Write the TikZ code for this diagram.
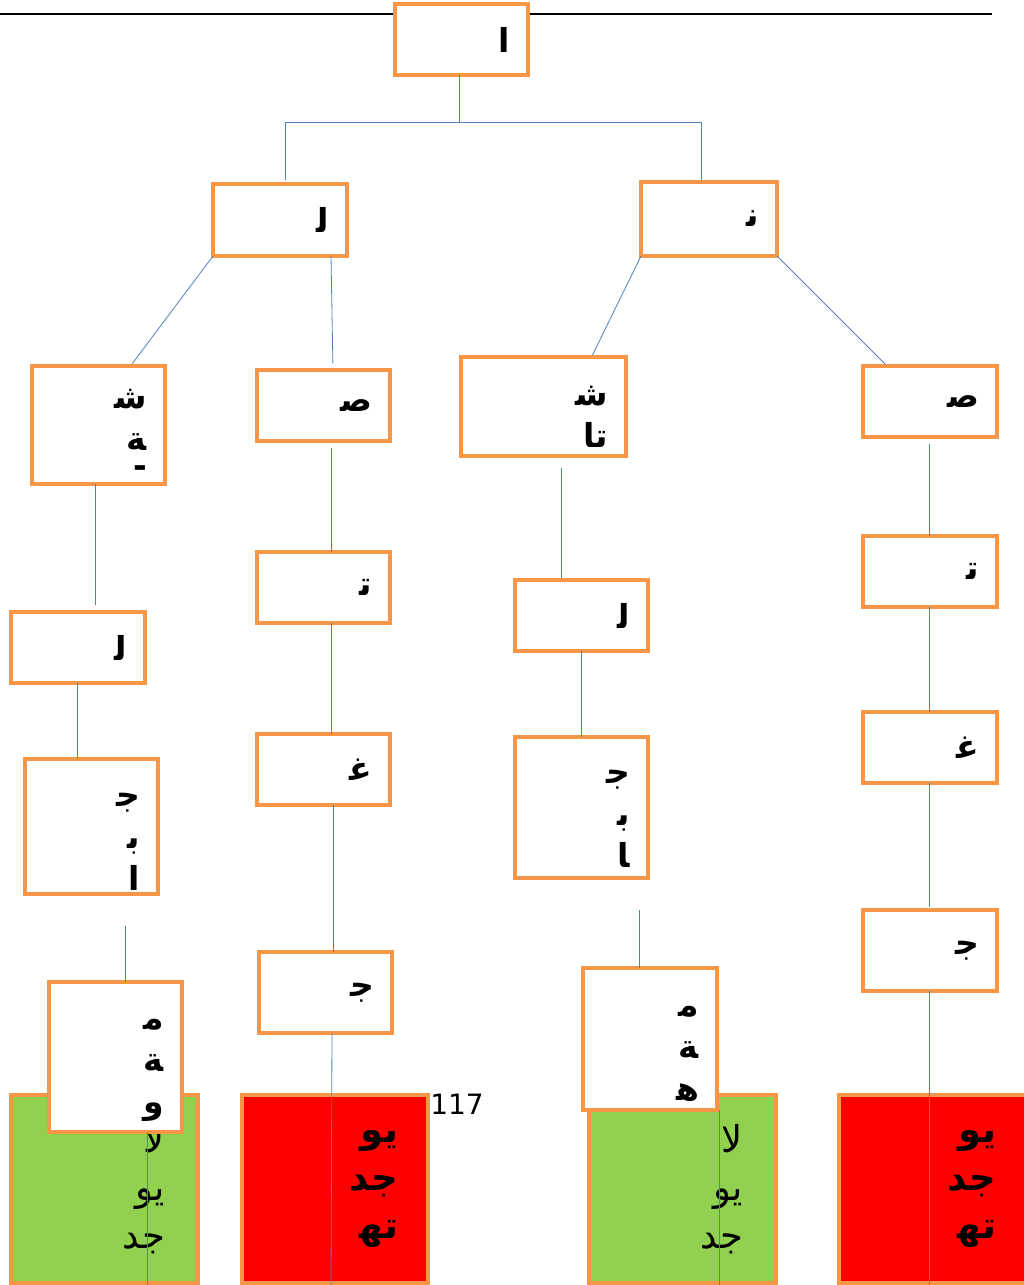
\documentclass[tikz,border=0pt]{standalone}
\usepackage{fontspec}
\setmainfont{DejaVu Sans}
\newfontfamily\arabicfont[Script=Arabic]{DejaVu Sans}
\TeXXeTstate=1
\definecolor{boxorange}{HTML}{F79646}
\definecolor{linkblue}{HTML}{4F81BD}
\definecolor{okgreen}{HTML}{92D050}
\definecolor{nored}{HTML}{FF0000}
\tikzset{
  box/.style={draw=boxorange, line width=4pt, fill=white, anchor=north west,
    outer sep=0pt, inner xsep=18pt, inner ysep=0pt, align=right,
    font=\arabicfont\bfseries\fontsize{33}{42}\selectfont},
  leaf/.style={box, inner xsep=33pt, font=\arabicfont\fontsize{37}{48}\selectfont},
  okleaf/.style={leaf, fill=okgreen},
  noleaf/.style={leaf, inner xsep=30pt, fill=nored, font=\arabicfont\bfseries\fontsize{37}{48}\selectfont},
  link/.style={draw=linkblue, line width=0.8pt}
}
\begin{document}
\begin{tikzpicture}[x=1pt, y=-1pt]
    \useasboundingbox (0,0) rectangle (1024,1285);
    \coordinate (ruleL) at (0,14);
    \coordinate (ruleR) at (992,14);
    \draw[line width=2pt] (ruleL) -- (ruleR);

    \node(okA)[okleaf, text width=121pt, minimum height=188pt] at (11,1095) {\beginR لا\endR\\ \beginR يو\endR\\ \beginR جد\endR};
    \node(noA)[noleaf, text width=126pt, minimum height=188pt] at (242,1095) {\beginR يو\endR\\ \beginR جد\endR\\ \beginR ﺗﻬ\endR};
    \node(okB)[okleaf, text width=121pt, minimum height=188pt] at (589,1095) {\beginR لا\endR\\ \beginR يو\endR\\ \beginR جد\endR};
    \node(noB)[noleaf, text width=127pt, minimum height=188pt] at (839,1095) {\beginR يو\endR\\ \beginR جد\endR\\ \beginR ﺗﻬ\endR};

    \node(alif)[box, text width=97pt, minimum height=71pt] at (395,4) {\beginR ا\endR};
    \node(lam1)[box, text width=98pt, minimum height=72pt] at (213,184) {\beginR ﻟ\endR};
    \node(nun)[box, text width=100pt, minimum height=74pt] at (641,182) {\beginR ﻧ\endR};

    \node(shin1)[box, text width=97pt, minimum height=118pt, text depth=52pt] at (32,366) {\beginR ﺷ\endR\\ \beginR ﺔ\endR\\[-15pt] -};
    \node(sad1)[box, text width=97pt, minimum height=71pt] at (257,370) {\beginR ﺻ\endR};
    \node(shin2)[box, text width=129pt, minimum height=99pt] at (461,357) {\rule{0pt}{40pt}\beginR ﺷ\endR\\ \beginR تا\endR};
    \node(sad2)[box, text width=98pt, minimum height=71pt] at (863,366) {\beginR ﺻ\endR};

    \node(lam2)[box, text width=98pt, minimum height=71pt] at (11,612) {\beginR ﻟ\endR};
    \node(ta1)[box, text width=97pt, minimum height=71pt] at (257,552) {\beginR ﺗ\endR};
    \node(lam3)[box, text width=97pt, minimum height=71pt] at (515,580) {\beginR ﻟ\endR};
    \node(ta2)[box, text width=98pt, minimum height=71pt] at (863,536) {\beginR ﺗ\endR};

    \node(jim1)[box, text width=97pt, minimum height=135pt] at (25,759) {\rule{0pt}{44pt}\beginR ﺟ\endR\\ \beginR ﺑ\endR\\ \beginR ا\endR};
    \node(ghain1)[box, text width=97pt, minimum height=71pt] at (257,734) {\beginR ﻏ\endR};
    \node(jim2)[box, text width=97pt, minimum height=141pt] at (515,737) {\rule{0pt}{36pt}\beginR ﺟ\endR\\ \beginR ﺑ\endR\\ \beginR ﺎ\endR};
    \node(ghain2)[box, text width=98pt, minimum height=71pt] at (863,712) {\beginR ﻏ\endR};

    \node(mim1)[box, text width=97pt, minimum height=150pt] at (49,982) {\rule{0pt}{38pt}\beginR ﻣ\endR\\ \beginR ﺔ\endR\\ \beginR و\endR};
    \node(jim3)[box, text width=97pt, minimum height=81pt] at (259,952) {\beginR ﺟ\endR};
    \node(mim2)[box, text width=98pt, minimum height=142pt] at (583,968) {\rule{0pt}{40pt}\beginR ﻣ\endR\\ \beginR ﺔ\endR\\ \beginR ﻫ\endR};
    \node(jim4)[box, text width=98pt, minimum height=81pt] at (863,910) {\beginR ﺟ\endR};

    \node(page)[font=\fontsize{28}{30}\selectfont] at (457,1104) {117};

    \coordinate (fork) at (459,122);
    \coordinate (end1) at (147,1285);
    \coordinate (end2) at (331,1285);
    \coordinate (end3) at (719,1285);
    \coordinate (end4) at (929,1285);

    \draw[link] (alif.south -| fork) -- (fork);
    \draw[link, shorten >=4pt] (fork) -| ([xshift=5pt]lam1.north);
    \draw[link, shorten >=2pt] (fork) -| ([xshift=-8pt]nun.north);
    \draw[link, shorten >=3pt] (lam1.south west) -- ([xshift=32pt]shin1.north);
    \draw[link, shorten >=7pt] ([xshift=51pt]lam1.south) -- ([xshift=9.5pt]sad1.north);
    \draw[link, shorten >=2pt] (nun.south west) -- ([xshift=48pt]shin2.north);
    \draw[link, shorten >=2pt] (nun.south east) -- ([xshift=-43pt]sad2.north);

    \draw[link, shorten >=7pt] ([xshift=-3.5pt]shin1.south) -- ([xshift=17pt]lam2.north);
    \draw[link] ([xshift=-1pt]lam2.south) -- ([xshift=-14.5pt]jim1.north);
    \draw[link, shorten <=32pt] ([xshift=33.5pt]jim1.south) -- ([xshift=9.5pt]mim1.north);
    \draw[link] ([xshift=31.5pt]mim1.south) -- (end1);

    \draw[link, shorten <=7pt] ([xshift=7.5pt]sad1.south) -- ([xshift=7.5pt]ta1.north);
    \draw[link] ([xshift=7.5pt]ta1.south) -- ([xshift=7.5pt]ghain1.north);
    \draw[link] ([xshift=9.5pt]ghain1.south) -- ([xshift=7.5pt]jim3.north);
    \draw[link] ([xshift=6.5pt]jim3.south) -- (end2);

    \draw[link, shorten <=12pt, shorten >=2pt] ([xshift=17.5pt]shin2.south) -- ([xshift=-20.5pt]lam3.north);
    \draw[link] (lam3.south) -- (jim2.north);
    \draw[link, shorten <=32pt] ([xshift=57.5pt]jim2.south) -- ([xshift=-11pt]mim2.north);
    \draw[link] ([xshift=69pt]mim2.south) -- (end3);

    \draw[link, shorten <=7pt] ([xshift=-1pt]sad2.south) -- ([xshift=-1pt]ta2.north);
    \draw[link] ([xshift=-1pt]ta2.south) -- ([xshift=-1pt]ghain2.north);
    \draw[link, shorten >=3pt] ([xshift=-1pt]ghain2.south) -- ([xshift=-1pt]jim4.north);
    \draw[link] ([xshift=-1pt]jim4.south) -- (end4);
\end{tikzpicture}
\end{document}
